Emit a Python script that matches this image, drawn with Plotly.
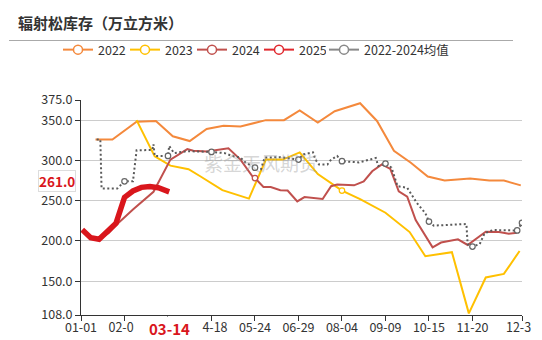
import plotly.graph_objects as go

# Day index within the year (0 = 01-01, 365 = 12-31) and inventory values
day_2022 = [12, 26, 46, 62, 76, 90, 104, 118, 132, 153, 168, 181, 196, 210, 231, 245, 259, 273, 287, 301, 322, 338, 350, 364]
val_2022 = [326, 326, 348, 349, 330, 324, 339, 343, 342, 350, 350, 362, 347, 361, 371, 349, 312, 297, 280, 275, 277.5, 275, 275, 269]

day_2023 = [46, 61, 74, 89, 99, 117, 139, 153, 167, 181, 196, 216, 231, 252, 272, 285, 307, 321, 335, 350, 363]
val_2023 = [350, 305, 293.5, 289, 280, 263, 252.5, 301, 301, 310, 283, 262.5, 252, 235, 211, 181, 186, 110, 154.6, 159, 187.5]

day_2024 = [16, 23, 30, 43, 60, 74, 88, 93, 104, 122, 132, 142, 144, 151, 157, 165, 171, 179, 185, 200, 207, 212, 226, 234, 241, 249, 256, 263, 270, 277, 291, 298, 312, 320, 335, 346, 354, 361]
val_2024 = [203, 210, 221, 239, 261, 301, 314, 312, 311, 315, 301, 280, 278, 267, 267, 263, 262.5, 249, 254.5, 252, 268, 270, 269, 274, 286.5, 295, 289.5, 261.5, 255, 226, 192, 198, 202, 195, 211.5, 211, 209, 210]

day_2025 = [1, 8, 15, 22, 29, 36, 43, 50, 57, 64, 73]
val_2025 = [214, 204, 202, 211, 222, 254, 262, 266.5, 267.5, 266, 261.0]

day_avg = [13, 16, 17, 30, 36, 43, 46, 59, 60, 61, 72, 73, 77, 88, 108, 119, 125, 132, 136, 144, 149, 152, 165, 174, 180,
           184, 192, 194, 197, 204, 207, 212, 216, 230, 241, 244, 246, 252, 257, 262, 270, 278, 285, 288, 292, 303, 319,
           320, 324, 330, 334, 341, 355, 361, 365]
val_avg = [326, 326, 265, 265, 274, 274, 312.5, 313, 320, 305.5, 305.5, 318, 309, 311.5, 310.5, 309, 305.5, 303.5, 297.5,
           291, 289, 303.5, 304, 302, 301, 307.5, 310, 301, 295, 295, 301, 305.5, 299, 297.5, 302, 303, 293, 296, 291,
           268, 266, 247, 234.5, 224, 219, 220, 221, 196, 193, 196, 209.5, 213.5, 213, 213, 222.5]

# Axis ticks
x_tickvals = [0, 36, 72, 108, 144, 180, 216, 252, 288, 324, 365]
x_ticktext = ["01-01", "02-0\u2007", "", "\u20074-18", "05-24", "06-29", "08-04", "09-09", "10-15", "11-20", "12-3\u2007"]
y_tickvals = [108, 150, 200, 250, 300, 350, 375]
y_ticktext = ["108.0", "150.0", "200.0", "250.0", "300.0", "350.0", "375.0"]

current_day = 73
current_label = "03-14"
current_value = val_2025[-1]

series = [
    ("2022", day_2022, val_2022, "#F4893C", 2, "solid", []),
    ("2023", day_2023, val_2023, "#FFC000", 2, "solid", [216]),
    ("2024", day_2024, val_2024, "#C0504D", 2, "solid", [144]),
    ("2025", day_2025, val_2025, "#D9161C", 5.5, "solid", []),
    ("2022-2024均值", day_avg, val_avg, "#5a5a5a", 2, "2px,2.5px", [36, 72, 108, 144, 180, 216, 252, 288, 324, 361, 365]),
]
legend_colors = {"2022": "#F4893C", "2023": "#FFC000", "2024": "#C0504D", "2025": "#E0282E", "2022-2024均值": "#888888"}

FONT = "Noto Sans CJK SC, Noto Sans, sans-serif"
W, H = 542, 340
L, R, T, B = 81, 20, 100, 25
PW, PH = W - L - R, H - T - B


def px_x(p):
    return (p - L) / PW


def px_y(p):
    return (H - B - p) / PH


fig = go.Figure()

for name, days, vals, color, width, dash, mark_days in series:
    fig.add_trace(go.Scatter(
        x=days, y=vals, mode="lines", name=name, showlegend=False,
        line=dict(color=color, width=width, dash=dash),
        hoverinfo="skip",
    ))
    if mark_days:
        mx = [d for d in days if d in mark_days]
        my = [v for d, v in zip(days, vals) if d in mark_days]
        mcolor = "#666666" if dash != "solid" else color
        fig.add_trace(go.Scatter(
            x=mx, y=my, mode="markers", showlegend=False, hoverinfo="skip",
            marker=dict(symbol="circle", size=5.5, color="white", line=dict(color=mcolor, width=1.2)),
        ))

# Legend entries (line with hollow circle); the long average label gets its own legend box
for name, *_ in series:
    c = legend_colors[name]
    fig.add_trace(go.Scatter(
        x=[None], y=[None], mode="lines+markers", name=name,
        legend="legend2" if "均值" in name else "legend",
        line=dict(color=c, width=2),
        marker=dict(symbol="circle", size=9, color="white", line=dict(color=c, width=1.5)),
    ))

legend_common = dict(orientation="h", xanchor="left", y=px_y(50), yanchor="middle",
                     font=dict(size=12.5, color="#333333"), itemwidth=30, tracegroupgap=0,
                     bgcolor="rgba(0,0,0,0)")

fig.update_layout(
    width=W, height=H,
    margin=dict(l=L, r=R, t=T, b=B, autoexpand=False),
    paper_bgcolor="white", plot_bgcolor="white",
    font=dict(family=FONT, size=12, color="#333333"),
    showlegend=True,
    legend=dict(x=px_x(58), entrywidth=22, entrywidthmode="pixels", **legend_common),
    legend2=dict(x=px_x(324), **legend_common),
    xaxis=dict(range=[0, 365], tickvals=x_tickvals, ticktext=x_ticktext, showgrid=False,
               showline=True, linecolor="#333333", linewidth=1, ticks="outside", ticklen=5,
               tickcolor="#333333", tickfont=dict(size=12.5, color="#333333"), zeroline=False,
               ticklabelstandoff=-4, fixedrange=True, automargin=False),
    yaxis=dict(range=[108, 375], tickvals=y_tickvals, ticktext=y_ticktext, showgrid=True,
               gridcolor="#cccccc", gridwidth=1, showline=True, linecolor="#333333", linewidth=1,
               ticks="outside", ticklen=5, tickcolor="#333333", tickfont=dict(size=12.5, color="#333333"),
               zeroline=False, fixedrange=True, automargin=False),
    hovermode=False,
)

# Title and rule
fig.add_annotation(text="<b>辐射松库存（万立方米）</b>", xref="paper", yref="paper",
                   x=px_x(16), y=px_y(22), xanchor="left", yanchor="middle", showarrow=False,
                   font=dict(size=15, color="#333333", family=FONT))
fig.add_shape(type="line", xref="paper", yref="paper", x0=px_x(9), x1=px_x(513),
              y0=px_y(40.5), y1=px_y(40.5), line=dict(color="#aaaaaa", width=1))

# Watermark
fig.add_annotation(text="紫金天风期货", xref="paper", yref="paper", x=px_x(261), y=px_y(162),
                   xanchor="center", yanchor="middle",
                   showarrow=False, font=dict(size=19, color="rgba(150,150,150,0.4)", family=FONT))

# Current-date pointer labels
fig.add_annotation(text="<b>%s</b>" % current_label, xref="x", yref="paper", x=current_day, y=px_y(328),
                   yanchor="middle", showarrow=False, bgcolor="white",
                   font=dict(size=15, color="#D9161C", family=FONT))
fig.add_annotation(text="<b>%.1f</b>" % current_value, xref="paper", yref="y", x=px_x(76), y=current_value,
                   xanchor="right", yanchor="middle", yshift=11, showarrow=False, bgcolor="white",
                   bordercolor="#dddddd", borderwidth=1, borderpad=0,
                   font=dict(size=13.5, color="#D9161C", family=FONT))

fig.write_html("out.html", config={"displayModeBar": False})
